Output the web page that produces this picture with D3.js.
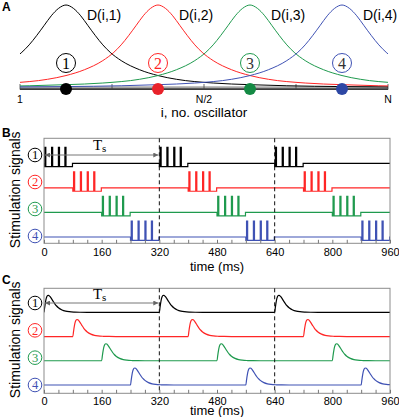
<!DOCTYPE html>
<html>
<head>
<meta charset="utf-8">
<script src="https://cdn.jsdelivr.net/npm/d3@7"></script>
<style>
  body { margin: 0; background: #fff; }
  svg { display: block; }
</style>
</head>
<body>
<script>
// ---- panel A: coupling profiles D(i,k) along the oscillator chain ----
const centers = [0.125, 0.375, 0.625, 0.875];
const kernelOffset = [0, 0.02, 0.04, 0.06, 0.08, 0.1, 0.12, 0.15, 0.2, 0.25, 0.3, 0.4, 0.5, 0.6, 0.75, 0.9];
const kernelValue  = [1, 0.96, 0.87, 0.75, 0.63, 0.52, 0.43, 0.33, 0.22, 0.15, 0.105, 0.06, 0.04, 0.027, 0.017, 0.012];
const profileLabels = ['D(i,1)', 'D(i,2)', 'D(i,3)', 'D(i,4)'];
const circledLabels = ['1', '2', '3', '4'];
const chainTicks = [0, 0.25, 0.5, 0.75, 1];
const chainTickPos = [0, 0.5, 1];
const chainTickText = ['1', 'N/2', 'N'];

// ---- panels B and C: stimulation signals ----
const onsets = [[0, 320, 640], [80, 400, 720], [160, 480, 800], [240, 560, 880]];
const spikeStarts = [2, 21, 40, 58];
const spikeWidth = 3;
const burstLength = 79;
const burstDip = -0.21;
const pulseT = [0, 2, 4, 6, 8, 10, 12, 14, 17, 20, 25, 30, 35, 40, 50, 60, 70, 85, 100, 120];
const pulseV = [0, 0.3, 0.58, 0.8, 0.93, 0.99, 1, 0.98, 0.92, 0.83, 0.66, 0.5, 0.37, 0.27, 0.14, 0.07, 0.035, 0.013, 0.004, 0];
const minorTicks = [0, 40, 80, 120, 160, 200, 240, 280, 320, 360, 400, 440, 480, 520, 560, 600, 640, 680, 720, 760, 800, 840, 880, 920, 960];
const timeLabels = [0, 160, 320, 480, 640, 800, 960];
const periodMarks = [320, 640];
const period = [0, 320];

const colors = ['#000000', '#ff2626', '#1f9a4e', '#3f52b4'];
const dotColors = ['#000000', '#e8222a', '#148a44', '#2d47a4'];

const W = 399, H = 417;
const svg = d3.select('body').append('svg').attr('width', W).attr('height', H)
  .style('font-family', 'Liberation Sans, Arial, sans-serif');

const defs = svg.append('defs');
defs.append('marker').attr('id', 'arr')
  .attr('viewBox', '0 0 10 10').attr('refX', 10).attr('refY', 5)
  .attr('markerWidth', 6).attr('markerHeight', 5).attr('markerUnits', 'userSpaceOnUse')
  .attr('orient', 'auto-start-reverse')
  .append('path').attr('d', 'M0,0L10,5L0,10z').attr('fill', '#666');

// panel letters
[['A', 11], ['B', 137], ['C', 284]].forEach(([t, y]) => {
  svg.append('text').attr('x', 2).attr('y', y).attr('font-weight', 'bold')
    .attr('font-size', 12).text(t);
});

// ================= panel A =================
const xA = d3.scaleLinear().domain([0, 1]).range([20, 388]);
const yA = d3.scaleLinear().domain([0, 1]).range([88, 5]);

defs.append('clipPath').attr('id', 'clipA').append('rect')
  .attr('x', xA(0)).attr('y', 0).attr('width', xA(1) - xA(0)).attr('height', 92);

const gA = svg.append('g');
// chain axis
gA.append('rect').attr('x', xA(0)).attr('y', 86.3).attr('width', xA(1) - xA(0)).attr('height', 3.4)
  .attr('fill', '#a6a6a6');
gA.append('line').attr('x1', xA(0)).attr('x2', xA(1)).attr('y1', 89.2).attr('y2', 89.2)
  .attr('stroke', '#111').attr('stroke-width', 1.3);
gA.selectAll('.ctick').data(chainTicks).join('line')
  .attr('x1', d => xA(d)).attr('x2', d => xA(d)).attr('y1', 84).attr('y2', 89.5)
  .attr('stroke', '#444').attr('stroke-width', 0.8);
gA.selectAll('.clab').data(chainTickPos).join('text')
  .attr('x', d => xA(d)).attr('y', 102.5).attr('text-anchor', 'middle')
  .attr('font-size', 10.5).text((d, i) => chainTickText[i]);
gA.append('text').attr('x', xA(0.5)).attr('y', 117).attr('text-anchor', 'middle')
  .attr('font-size', 13.5).text('i, no. oscillator');

const lineA = d3.line().x(d => xA(d[0])).y(d => yA(d[1])).curve(d3.curveMonotoneX);
centers.forEach((c, k) => {
  const pts = [];
  for (let j = kernelOffset.length - 1; j > 0; j--) pts.push([c - kernelOffset[j], kernelValue[j]]);
  kernelOffset.forEach((o, j) => pts.push([c + o, kernelValue[j]]));
  gA.append('path').datum(pts).attr('d', lineA).attr('clip-path', 'url(#clipA)')
    .attr('fill', 'none').attr('stroke', colors[k]).attr('stroke-width', 1);
});

gA.selectAll('.dot').data(centers).join('circle')
  .attr('cx', d => xA(d)).attr('cy', 89).attr('r', 6)
  .attr('fill', (d, i) => dotColors[i]);

gA.selectAll('.dlab').data(centers).join('text')
  .attr('x', d => xA(d) + 21).attr('y', 19.5).attr('font-size', 14)
  .text((d, i) => profileLabels[i]);

const circA = gA.selectAll('.circ').data(centers).join('g')
  .attr('transform', d => `translate(${xA(d)},63)`);
circA.append('circle').attr('r', 9.5).attr('fill', '#fff')
  .attr('stroke', (d, i) => colors[i]).attr('stroke-width', 1);
circA.append('text').attr('y', 5.5).attr('text-anchor', 'middle')
  .attr('font-family', 'Liberation Serif, Times New Roman, serif').attr('font-size', 16)
  .attr('fill', (d, i) => i < 2 ? colors[i] : '#333').text((d, i) => circledLabels[i]);

// ================= panels B & C =================
const xT = d3.scaleLinear().domain([0, 960]).range([44, 390]);

function burstPoints(list) {
  const pts = [[0, 0]];
  list.forEach(o => {
    pts.push([o, 0], [o, burstDip]);
    spikeStarts.forEach(s => {
      pts.push([o + s, burstDip], [o + s, 1], [o + s + spikeWidth, 1], [o + s + spikeWidth, burstDip]);
    });
    pts.push([o + burstLength, burstDip], [o + burstLength, 0]);
  });
  pts.push([960, 0]);
  return pts;
}

function pulsePoints(list) {
  const pts = [];
  if (list[0] !== 0) pts.push([0, 0]);
  list.forEach(o => {
    pulseT.forEach((t, j) => pts.push([o + t, pulseV[j]]));
  });
  pts.push([960, 0]);
  return pts;
}

function panel(id, top, bottom, rowRange, circRange, amp, arrowY, tsY, timeY, pad, kind) {
  const g = svg.append('g');
  const rowY = d3.scalePoint().domain([0, 1, 2, 3]).range(rowRange);
  const circY = d3.scalePoint().domain([0, 1, 2, 3]).range(circRange);

  defs.append('clipPath').attr('id', 'clip' + id).append('rect')
    .attr('x', xT(0)).attr('y', top).attr('width', xT(960) - xT(0)).attr('height', bottom - top);

  // signals
  onsets.forEach((list, k) => {
    const base = rowY(k);
    const pts = kind === 'burst' ? burstPoints(list) : pulsePoints(list);
    const line = d3.line().x(d => xT(d[0])).y(d => base - d[1] * amp);
    if (kind !== 'burst') line.curve(d3.curveMonotoneX);
    g.append('path').datum(pts).attr('d', line).attr('clip-path', `url(#clip${id})`)
      .attr('fill', 'none').attr('stroke', colors[k]).attr('stroke-width', 1.2);
  });

  // frame
  g.append('rect').attr('x', xT(0)).attr('y', top).attr('width', xT(960) - xT(0))
    .attr('height', bottom - top).attr('fill', 'none').attr('stroke', '#8c8c8c').attr('stroke-width', 1);

  // period markers
  g.selectAll('.pm').data(periodMarks).join('line')
    .attr('x1', d => xT(d)).attr('x2', d => xT(d)).attr('y1', top).attr('y2', bottom)
    .attr('stroke', '#111').attr('stroke-width', 1).attr('stroke-dasharray', '4,3');

  // time axis
  const ax = g.append('g').attr('transform', `translate(0,${bottom})`)
    .call(d3.axisBottom(xT).tickValues(minorTicks).tickSize(-3.5).tickPadding(pad)
      .tickFormat(d => timeLabels.includes(d) ? d : ''));
  ax.select('.domain').remove();
  ax.selectAll('.tick line').attr('stroke', '#777');
  ax.selectAll('.tick text').attr('font-size', 11).attr('fill', '#000')
    .attr('font-family', 'Liberation Sans, Arial, sans-serif');

  g.append('text').attr('x', xT(480)).attr('y', timeY).attr('text-anchor', 'middle')
    .attr('font-size', 13).text('time (ms)');

  g.append('text').attr('transform', `translate(20,${(top + bottom) / 2 - 1}) rotate(-90)`)
    .attr('text-anchor', 'middle').attr('font-size', 14).text('Stimulation signals');

  // circled row numbers
  const cg = g.selectAll('.rc').data(circledLabels).join('g')
    .attr('transform', (d, i) => `translate(35,${circY(i)})`);
  cg.append('circle').attr('r', 6.8).attr('fill', '#fff')
    .attr('stroke', (d, i) => colors[i]).attr('stroke-width', 1);
  cg.append('text').attr('y', 4.3).attr('text-anchor', 'middle')
    .attr('font-family', 'Liberation Serif, Times New Roman, serif').attr('font-size', 12.5)
    .attr('fill', (d, i) => colors[i]).text(d => d);

  // period arrow
  g.append('line').attr('x1', xT(period[0]) + 1).attr('x2', xT(period[1]) - 1)
    .attr('y1', arrowY).attr('y2', arrowY).attr('stroke', '#777').attr('stroke-width', 1)
    .attr('marker-start', 'url(#arr)').attr('marker-end', 'url(#arr)');
  const ts = g.append('text').attr('x', xT((period[0] + period[1]) / 2) - 2).attr('y', tsY)
    .attr('text-anchor', 'middle').attr('font-family', 'Liberation Serif, Times New Roman, serif')
    .attr('font-size', 15);
  ts.append('tspan').text('T');
  ts.append('tspan').attr('font-size', 11).attr('dy', 2).text('s');
}

panel('B', 138.3, 243.3, [163.3, 237], [155, 236], 16, 155, 149.5, 270.5, 5, 'burst');
panel('C', 288.3, 393.3, [312.3, 385], [303, 385], 17, 303, 299, 414.5, 3.5, 'pulse');
</script>
</body>
</html>
